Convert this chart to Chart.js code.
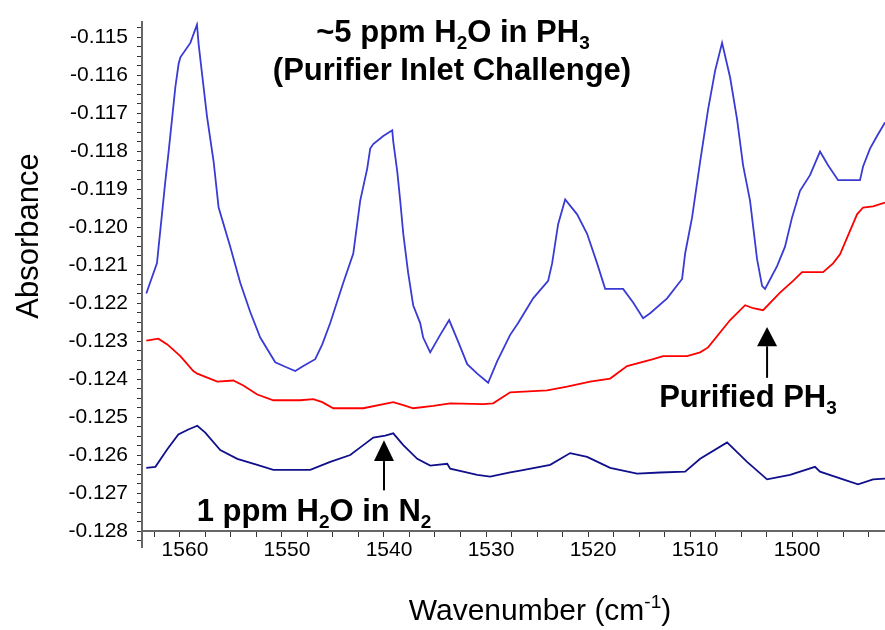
<!DOCTYPE html>
<html>
<head>
<meta charset="utf-8">
<script src="https://cdn.jsdelivr.net/npm/chart.js@4/dist/chart.umd.min.js"></script>
<style>
  html, body { margin: 0; padding: 0; background: #ffffff; }
  canvas { display: block; }
</style>
</head>
<body>
<canvas id="c" width="885" height="630"></canvas>
<script>
// ---- Data (wavenumber in cm^-1, absorbance) ----
const wnChallenge = [1563.30,1562.25,1562.09,1561.76,1561.43,1561.11,1560.78,1560.45,1560.13,1559.96,1558.98,1558.33,1558.17,1557.84,1557.35,1556.70,1556.21,1555.07,1554.09,1553.11,1552.13,1550.66,1549.68,1548.70,1547.91,1546.74,1546.05,1545.27,1543.99,1543.01,1542.33,1541.64,1541.35,1541.05,1540.07,1539.19,1539.09,1538.70,1538.41,1538.11,1537.63,1537.14,1536.45,1536.16,1535.47,1534.49,1533.61,1532.73,1531.84,1530.86,1529.79,1528.90,1527.63,1526.85,1525.38,1523.91,1523.52,1522.93,1522.24,1521.07,1520.09,1519.11,1518.32,1516.56,1515.58,1514.60,1513.91,1512.25,1510.78,1510.48,1509.80,1509.01,1508.23,1507.54,1506.86,1506.07,1505.39,1504.80,1504.12,1503.43,1502.94,1502.65,1501.47,1500.69,1500.00,1499.22,1498.24,1497.26,1496.47,1495.49,1493.34,1493.04,1492.36,1491.67,1490.89];
const absChallenge = [-0.12174,-0.12094,-0.12051,-0.11965,-0.11878,-0.11801,-0.11716,-0.11631,-0.11570,-0.11553,-0.11515,-0.11467,-0.11518,-0.11595,-0.11708,-0.11827,-0.11948,-0.12051,-0.12146,-0.12223,-0.12290,-0.12355,-0.12367,-0.12378,-0.12365,-0.12347,-0.12308,-0.12252,-0.12146,-0.12069,-0.11930,-0.11845,-0.11793,-0.11781,-0.11760,-0.11745,-0.11775,-0.11853,-0.11930,-0.12017,-0.12120,-0.12205,-0.12252,-0.12290,-0.12329,-0.12283,-0.12244,-0.12301,-0.12360,-0.12385,-0.12409,-0.12352,-0.12283,-0.12252,-0.12187,-0.12141,-0.12095,-0.11992,-0.11927,-0.11966,-0.12017,-0.12095,-0.12162,-0.12162,-0.12198,-0.12239,-0.12226,-0.12187,-0.12136,-0.12069,-0.11974,-0.11827,-0.11690,-0.11588,-0.11515,-0.11606,-0.11716,-0.11837,-0.11930,-0.12084,-0.12154,-0.12162,-0.12102,-0.12051,-0.11974,-0.11904,-0.11863,-0.11801,-0.11837,-0.11876,-0.11876,-0.11840,-0.11793,-0.11760,-0.11724];

const wnPurified = [1563.30,1562.12,1561.24,1559.96,1558.69,1558.30,1556.34,1554.77,1553.79,1552.42,1550.85,1548.21,1546.93,1546.05,1544.97,1542.03,1539.09,1538.11,1537.14,1535.18,1533.51,1530.28,1529.30,1527.63,1524.01,1522.05,1519.79,1517.83,1516.17,1513.62,1512.64,1510.29,1509.01,1508.23,1506.07,1504.60,1503.82,1502.84,1501.18,1499.90,1499.02,1496.96,1495.98,1495.30,1493.63,1493.04,1492.06,1490.89];
const absPurified = [-0.12298,-0.12293,-0.12308,-0.12339,-0.12378,-0.12385,-0.12406,-0.12403,-0.12416,-0.12440,-0.12455,-0.12455,-0.12452,-0.12460,-0.12476,-0.12476,-0.12460,-0.12468,-0.12476,-0.12470,-0.12463,-0.12465,-0.12463,-0.12434,-0.12429,-0.12419,-0.12406,-0.12398,-0.12365,-0.12347,-0.12339,-0.12339,-0.12329,-0.12316,-0.12244,-0.12205,-0.12213,-0.12218,-0.12172,-0.12141,-0.12118,-0.12118,-0.12095,-0.12071,-0.11966,-0.11948,-0.11945,-0.11935];

const wnNitrogen = [1563.30,1562.41,1561.24,1560.16,1559.18,1558.30,1557.52,1556.05,1554.38,1552.42,1550.85,1547.23,1545.27,1543.31,1542.03,1541.05,1539.88,1539.09,1538.11,1536.74,1535.47,1533.80,1533.51,1532.24,1530.86,1529.59,1527.63,1526.65,1523.71,1521.75,1520.09,1517.83,1515.19,1512.93,1510.48,1509.01,1506.37,1504.41,1502.45,1500.20,1497.75,1497.26,1495.00,1493.53,1492.06,1490.89];
const absNitrogen = [-0.12633,-0.12630,-0.12584,-0.12545,-0.12532,-0.12522,-0.12540,-0.12586,-0.12609,-0.12625,-0.12638,-0.12638,-0.12617,-0.12599,-0.12573,-0.12553,-0.12548,-0.12542,-0.12573,-0.12609,-0.12627,-0.12622,-0.12635,-0.12643,-0.12651,-0.12656,-0.12645,-0.12640,-0.12625,-0.12594,-0.12604,-0.12633,-0.12648,-0.12645,-0.12643,-0.12609,-0.12566,-0.12617,-0.12663,-0.12651,-0.12630,-0.12643,-0.12663,-0.12676,-0.12663,-0.12661];

// axis ranges / ticks
const xRange = [1490.89, 1563.72];
const yRange = [-0.12841, -0.11459];
const xTickStep = 2.5;   // major labels every 10
const yTickStep = 0.00025; // major labels every 0.001
const xAxisCrossAt = -0.128;

// annotation anchors (data coordinates)
const arrowN2 = { x: 1540.0, tip: -0.12560, base: -0.12615, tail: -0.12692 };
const arrowPH3 = { x: 1502.45, tip: -0.12262, base: -0.12313, tail: -0.12396 };

const pts = (xs, ys) => xs.map((x, i) => ({ x: x, y: ys[i] }));

const FONT = "'Liberation Sans', Arial, Helvetica, sans-serif";

function drawRich(ctx, parts, cx, baseline, size, weight, align) {
  const segs = parts.map(p => {
    const mode = p[1] || 'n';
    const s = mode === 'n' ? size : Math.round(size * 0.62);
    const dy = mode === 'sub' ? size * 0.24 : (mode === 'sup' ? -size * 0.40 : 0);
    ctx.font = weight + ' ' + s + 'px ' + FONT;
    return { t: p[0], s: s, dy: dy, w: ctx.measureText(p[0]).width };
  });
  const total = segs.reduce((a, b) => a + b.w, 0);
  let x = align === 'left' ? cx : cx - total / 2;
  ctx.textBaseline = 'alphabetic';
  ctx.textAlign = 'left';
  segs.forEach(sg => {
    ctx.font = weight + ' ' + sg.s + 'px ' + FONT;
    ctx.fillText(sg.t, x, baseline + sg.dy);
    x += sg.w;
  });
}

function drawArrow(ctx, xs, ys, a) {
  const px = xs.getPixelForValue(a.x);
  const tip = ys.getPixelForValue(a.tip);
  const base = ys.getPixelForValue(a.base);
  const tail = ys.getPixelForValue(a.tail);
  ctx.save();
  ctx.strokeStyle = '#000';
  ctx.fillStyle = '#000';
  ctx.lineWidth = 2;
  ctx.beginPath();
  ctx.moveTo(px, tail);
  ctx.lineTo(px, base);
  ctx.stroke();
  ctx.beginPath();
  ctx.moveTo(px, tip);
  ctx.lineTo(px - 10, base);
  ctx.lineTo(px + 10, base);
  ctx.closePath();
  ctx.fill();
  ctx.restore();
}

const overlay = {
  id: 'overlay',
  afterDraw(chart) {
    const ctx = chart.ctx;
    const xs = chart.scales.x, ys = chart.scales.y;
    ctx.save();
    ctx.fillStyle = '#000';
    drawRich(ctx, [['~5 ppm H'], ['2', 'sub'], ['O in PH'], ['3', 'sub']], 453, 42, 31, 'bold');
    drawRich(ctx, [['(Purifier Inlet Challenge)']], 452, 80, 31, 'bold');
    drawRich(ctx, [['Purified PH'], ['3', 'sub']], 748, 407, 31, 'bold');
    drawRich(ctx, [['1 ppm H'], ['2', 'sub'], ['O in N'], ['2', 'sub']], 314, 521, 31, 'bold');
    drawRich(ctx, [['Wavenumber (cm'], ['-1', 'sup'], [')']], 540, 620, 30, 'normal');
    ctx.save();
    ctx.translate(38, 236);
    ctx.rotate(-Math.PI / 2);
    drawRich(ctx, [['Absorbance']], 0, 0, 31, 'normal');
    ctx.restore();
    drawArrow(ctx, xs, ys, arrowN2);
    drawArrow(ctx, xs, ys, arrowPH3);
    ctx.restore();
  }
};

const bg = {
  id: 'bg',
  beforeDraw(chart) {
    const ctx = chart.ctx;
    ctx.save();
    ctx.fillStyle = '#fff';
    ctx.fillRect(0, 0, chart.width, chart.height);
    ctx.restore();
  }
};

new Chart(document.getElementById('c'), {
  type: 'line',
  data: {
    datasets: [
      { label: '~5 ppm H2O in PH3', data: pts(wnChallenge, absChallenge), borderColor: '#3a3ad4', borderWidth: 1.8 },
      { label: 'Purified PH3', data: pts(wnPurified, absPurified), borderColor: '#ff0000', borderWidth: 1.8 },
      { label: '1 ppm H2O in N2', data: pts(wnNitrogen, absNitrogen), borderColor: '#10108c', borderWidth: 1.8 }
    ]
  },
  options: {
    responsive: false,
    animation: false,
    devicePixelRatio: 1,
    layout: { padding: { top: 10, bottom: 83, left: 0, right: 0 } },
    elements: { point: { radius: 0 }, line: { tension: 0 } },
    plugins: { legend: { display: false }, tooltip: { enabled: false } },
    scales: {
      x: {
        type: 'linear',
        reverse: true,
        min: xRange[0],
        max: xRange[1],
        position: { y: xAxisCrossAt },
        grid: { drawOnChartArea: false, drawTicks: true, tickLength: 5, tickColor: '#333', tickWidth: 1 },
        border: { display: true, color: '#666', width: 2 },
        ticks: {
          stepSize: xTickStep,
          includeBounds: false,
          autoSkip: false,
          maxRotation: 0,
          padding: 1,
          labelOffset: 5,
          color: '#000',
          font: { family: FONT, size: 21 },
          callback: (v) => (Math.abs(Math.round(v) - v) < 1e-6 && Math.round(v) % 10 === 0) ? String(Math.round(v)) : ''
        },
        title: { display: false }
      },
      y: {
        type: 'linear',
        min: yRange[0],
        max: yRange[1],
        position: 'left',
        afterFit: (s) => { s.width = 142; },
        grid: { drawOnChartArea: false, drawTicks: true, tickLength: 5, tickColor: '#333', tickWidth: 1 },
        border: { display: true, color: '#666', width: 2 },
        ticks: {
          stepSize: yTickStep,
          includeBounds: false,
          autoSkip: false,
          padding: 9,
          color: '#000',
          font: { family: FONT, size: 21 },
          callback: (v) => {
            const k = Math.round(v * 100000);
            return (Math.abs(v * 100000 - k) < 1e-3 && k % 100 === 0) ? v.toFixed(3) : '';
          }
        },
        title: { display: false }
      }
    }
  },
  plugins: [bg, overlay]
});
</script>
</body>
</html>
